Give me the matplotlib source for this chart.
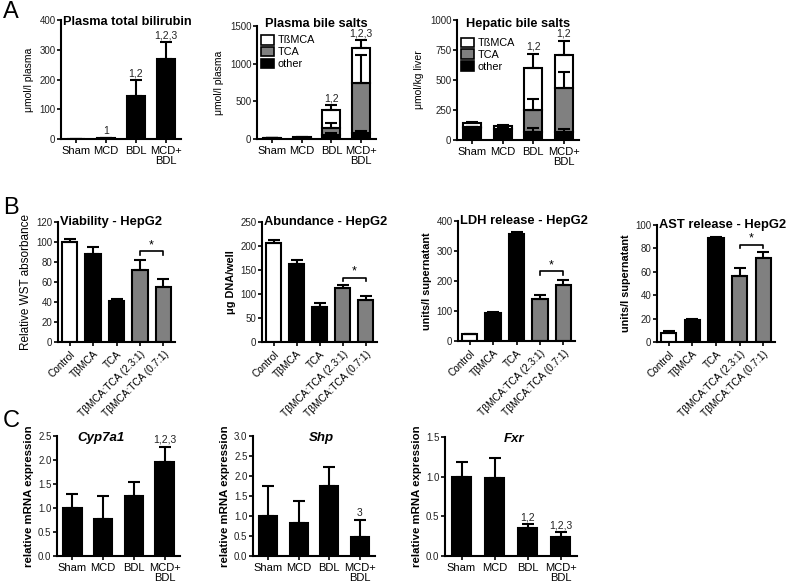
import matplotlib
matplotlib.use("Agg")
import matplotlib.pyplot as plt
import numpy as np
from matplotlib.patches import Patch

plt.rcParams['font.family'] = ['Liberation Sans', 'DejaVu Sans']
plt.rcParams['axes.linewidth'] = 1.5

W, H = 787, 583
GREY = '#808080'

# ---------------- Data ----------------
groups_A = ["Sham", "MCD", "BDL", "MCD+\nBDL"]

bilirubin = [1, 3, 145, 270]
bilirubin_err = [0.5, 1, 52, 55]
bilirubin_sig = ["", "1", "1,2", "1,2,3"]

plasma_other = [5, 12, 55, 80]
plasma_other_err = [2, 4, 20, 20]
plasma_tca = [2, 4, 95, 670]
plasma_tca_err = [1, 2, 60, 360]
plasma_tbmca = [3, 5, 240, 460]
plasma_tbmca_err = [2, 3, 60, 100]
plasma_sig = ["", "", "1,2", "1,2,3"]

hep_other = [100, 90, 69, 69]
hep_other_err = [5, 5, 28, 20]
hep_tca = [5, 5, 181, 367]
hep_tca_err = [3, 3, 90, 130]
hep_tbmca = [35, 25, 352, 272]
hep_tbmca_err = [8, 5, 115, 120]
hep_sig = ["", "", "1,2", "1,2"]

groups_B = ["Control", "TβMCA", "TCA", "TβMCA:TCA (2.3:1)", "TβMCA:TCA (0.7:1)"]
colors_B = ["white", "black", "black", GREY, GREY]

viability = [100, 88, 41, 72, 55]
viability_err = [3, 7, 2, 10, 8]
abundance = [207, 163, 73, 112, 88]
abundance_err = [6, 7, 9, 6, 7]
ldh = [22, 94, 355, 140, 188]
ldh_err = [2, 2, 7, 15, 15]
ast = [8, 19, 89, 56, 72]
ast_err = [1, 1, 1, 7, 5]
bracket_levels = [91, 134, 232, 83]

cyp7a1 = [1.0, 0.77, 1.25, 1.95]
cyp7a1_err = [0.3, 0.48, 0.3, 0.32]
cyp7a1_sig = ["", "", "", "1,2,3"]
shp = [1.0, 0.83, 1.75, 0.48]
shp_err = [0.75, 0.54, 0.48, 0.42]
shp_sig = ["", "", "", "3"]
fxr = [1.0, 0.98, 0.35, 0.24]
fxr_err = [0.18, 0.25, 0.05, 0.06]
fxr_sig = ["", "", "1,2", "1,2,3"]

# ---------------- Helpers ----------------
fig = plt.figure(figsize=(W / 100, H / 100), dpi=100)


def ax_px(l, r, t, b):
    return fig.add_axes([l / W, 1 - b / H, (r - l) / W, (b - t) / H])


def style(ax, ymax, yticks, ytick_size=7):
    ax.spines['top'].set_visible(False)
    ax.spines['right'].set_visible(False)
    ax.set_ylim(0, ymax)
    ax.set_yticks(yticks)
    ax.tick_params(axis='y', length=3, width=1.2, labelsize=ytick_size, pad=1, labelcolor='#222222')
    ax.tick_params(axis='x', length=3, width=1.2, pad=2)


def simple_bars(ax, vals, errs, colors, width=0.6, sig=None, sig_size=7.5):
    x = np.arange(len(vals))
    ax.bar(x, vals, width=width, color=colors, edgecolor='black', linewidth=1.5, zorder=2)
    ax.errorbar(x, vals, yerr=[np.zeros(len(vals)), errs], fmt='none', ecolor='black',
                elinewidth=1.5, capsize=4, capthick=1.5, zorder=3)
    ax.set_xticks(x)
    ax.set_xlim(-0.5, len(vals) - 0.5)
    if sig:
        for xi, v, e, s in zip(x, vals, errs, sig):
            if s:
                ax.annotate(s, (xi, v + e), xytext=(0, 1.5), textcoords='offset points',
                            ha='center', va='bottom', fontsize=sig_size, color='#222222')
    return x


def stacked(ax, comps, errs, colors):
    x = np.arange(len(comps[0]))
    bottom = np.zeros(len(x))
    for vals, col in zip(comps, colors):
        ax.bar(x, vals, width=0.6, bottom=bottom, color=col, edgecolor='black', linewidth=1.5, zorder=2)
        bottom = bottom + np.array(vals)
    bottom = np.zeros(len(x))
    for vals, e in zip(comps, errs):
        top = bottom + np.array(vals)
        ax.errorbar(x, top, yerr=[np.zeros(len(x)), e], fmt='none', ecolor='black',
                    elinewidth=1.5, capsize=4, capthick=1.5, zorder=3)
        bottom = top
    ax.set_xticks(x)
    ax.set_xlim(-0.5, len(x) - 0.5)
    return x, bottom


def annotate_tops(ax, x, tops, errs, sig):
    for xi, t, e, s in zip(x, tops, errs, sig):
        if s:
            ax.annotate(s, (xi, t + e), xytext=(0, 1.5), textcoords='offset points',
                        ha='center', va='bottom', fontsize=7.5, color='#222222')


def group_labels(ax):
    ax.set_xticklabels(groups_A, fontsize=8, linespacing=1.0)


# ---------------- Panel A ----------------
a1 = ax_px(61, 181, 20, 139)
simple_bars(a1, bilirubin, bilirubin_err, 'black', sig=bilirubin_sig)
style(a1, 400, [0, 100, 200, 300, 400])
group_labels(a1)
a1.set_ylabel("μmol/l plasma", fontsize=7.5, labelpad=4)
a1.text(0.02, 0.98, "Plasma total bilirubin", transform=a1.transAxes, ha='left', va='center',
        fontsize=9.2, fontweight='bold')

a2 = ax_px(257, 376, 26, 139)
x2, tot2 = stacked(a2, [plasma_other, plasma_tca, plasma_tbmca],
                   [plasma_other_err, plasma_tca_err, plasma_tbmca_err], ['black', GREY, 'white'])
annotate_tops(a2, x2, tot2, plasma_tbmca_err, plasma_sig)
style(a2, 1500, [0, 500, 1000, 1500])
group_labels(a2)
a2.set_ylabel("μmol/l plasma", fontsize=7.5, labelpad=4)
a2.text(0.5, 1.02, "Plasma bile salts", transform=a2.transAxes, ha='center', va='center',
        fontsize=9.2, fontweight='bold')

a3 = ax_px(457, 579, 20, 140)
x3, tot3 = stacked(a3, [hep_other, hep_tca, hep_tbmca],
                   [hep_other_err, hep_tca_err, hep_tbmca_err], ['black', GREY, 'white'])
annotate_tops(a3, x3, tot3, hep_tbmca_err, hep_sig)
style(a3, 1000, [0, 250, 500, 750, 1000])
group_labels(a3)
a3.set_ylabel("μmol/kg liver", fontsize=7.5, labelpad=4)
a3.text(0.5, 0.967, "Hepatic bile salts", transform=a3.transAxes, ha='center', va='center',
        fontsize=9.2, fontweight='bold')

leg_handles = [Patch(facecolor='white', edgecolor='black', linewidth=1.2),
               Patch(facecolor=GREY, edgecolor='black', linewidth=1.2),
               Patch(facecolor='black', edgecolor='black', linewidth=1.2)]
leg_labels = ["TßMCA", "TCA", "other"]
for ax, anchor in [(a2, (0.0, 0.96)), (a3, (0.0, 0.89))]:
    ax.legend(leg_handles, leg_labels, loc='upper left', bbox_to_anchor=anchor, frameon=False,
              fontsize=7.8, handlelength=1.2, handleheight=1.0, handletextpad=0.3,
              labelspacing=0.12, borderaxespad=0.2, borderpad=0.2)

# ---------------- Panel B ----------------
b_specs = [
    ((58, 175, 222, 342), viability, viability_err, 120, np.arange(0, 121, 20),
     "Relative WST absorbance", 'normal', "Viability - HepG2"),
    ((262, 377, 222, 342), abundance, abundance_err, 250, np.arange(0, 251, 50),
     "μg DNA/well", 'bold', "Abundance - HepG2"),
    ((458, 575, 221, 341), ldh, ldh_err, 400, np.arange(0, 401, 100),
     "units/l supernatant", 'bold', "LDH release - HepG2"),
    ((657, 775, 225, 342), ast, ast_err, 100, np.arange(0, 101, 20),
     "units/l supernatant", 'bold', "AST release - HepG2"),
]
for (box, vals, errs, ymax, yt, ylab, ylw, title), blev in zip(b_specs, bracket_levels):
    ax = ax_px(*box)
    x = simple_bars(ax, vals, errs, colors_B, width=0.65)
    style(ax, ymax, yt)
    ax.set_xticklabels(groups_B, rotation=45, ha='right', rotation_mode='anchor', fontsize=7.3)
    ax.set_ylabel(ylab, fontsize=8.5 if ylw == 'normal' else 7.8, fontweight=ylw, labelpad=3)
    ax.text(0.02, 1.0, title, transform=ax.transAxes, ha='left', va='center',
            fontsize=9.3, fontweight='bold')
    tick = ymax * 0.03
    ax.plot([3, 3, 4, 4], [blev - tick, blev, blev, blev - tick], color='black', lw=1.2,
            clip_on=False, zorder=4)
    ax.text(3.5, blev, "*", ha='center', va='bottom', fontsize=9)

# ---------------- Panel C ----------------
c_specs = [
    ((57, 180, 436, 556), cyp7a1, cyp7a1_err, cyp7a1_sig, 2.5, np.arange(0, 2.51, 0.5), "Cyp7a1", 0.36),
    ((253, 375, 436, 556), shp, shp_err, shp_sig, 3.0, np.arange(0, 3.01, 0.5), "Shp", 0.56),
    ((445, 577, 437, 556), fxr, fxr_err, fxr_sig, 1.5, np.arange(0, 1.51, 0.5), "Fxr", 0.52),
]
for box, vals, errs, sig, ymax, yt, title, tx in c_specs:
    ax = ax_px(*box)
    simple_bars(ax, vals, errs, 'black', sig=sig)
    style(ax, ymax, yt)
    ax.set_yticklabels([f"{v:.1f}" for v in yt])
    group_labels(ax)
    ax.set_ylabel("relative mRNA expression", fontsize=8.2, fontweight='bold', labelpad=3)
    ax.text(tx, 0.98, title, transform=ax.transAxes, ha='center', va='center',
            fontsize=9.5, fontweight='bold', style='italic')

# Panel letters
for letter, y in [("A", 12), ("B", 208), ("C", 421)]:
    fig.text(3 / W, 1 - y / H, letter, fontsize=17, ha='left', va='center')

fig.savefig("out.png", dpi=100)
